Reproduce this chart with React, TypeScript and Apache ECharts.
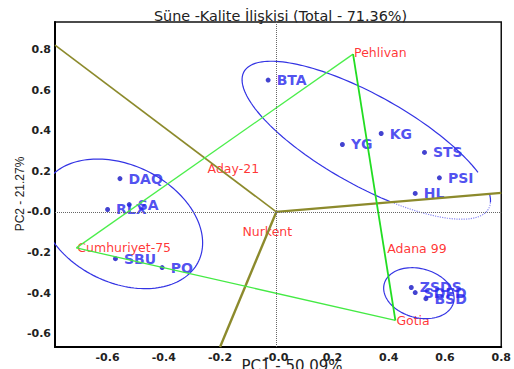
import React, { useEffect, useRef } from "react";
import * as echarts from "echarts";

// ---- data ----
const titleText = "Süne -Kalite İlişkisi (Total - 71.36%)";
const xName = "PC1 - 50.09%";
const yName = "PC2 - 21.27%";

const tickValues = [-0.6, -0.4, -0.2, 0, 0.2, 0.4, 0.6, 0.8];

// quality traits (blue)
const traitNames = ["BTA", "YG", "KG", "STS", "PSI", "HL", "DAQ", "SA", "RLX", "SBU", "PO", "ZSDS", "SDFD", "BSD"];
const traitPC1 = [-0.029, 0.235, 0.373, 0.527, 0.58, 0.494, -0.556, -0.523, -0.6, -0.572, -0.406, 0.48, 0.494, 0.532];
const traitPC2 = [0.649, 0.332, 0.386, 0.293, 0.168, 0.091, 0.164, 0.036, 0.012, -0.23, -0.274, -0.372, -0.397, -0.427];

// genotypes (red)
const genoNames = ["Pehlivan", "Aday-21", "Nurkent", "Adana 99", "Gotia", "Cumhuriyet-75"];
const genoPC1 = [0.273, -0.248, -0.124, 0.391, 0.4235, -0.711];
const genoPC2 = [0.777, 0.214, -0.095, -0.18, -0.534, -0.177];

// convex hull of genotypes (green)
const hullOrder = ["Pehlivan", "Gotia", "Cumhuriyet-75"];

// olive vectors from origin (end points)
const vectorEndsPC1 = [-0.787, 0.8, -0.2];
const vectorEndsPC2 = [0.821, 0.094, -0.665];

// ellipses: centre + two conjugate semi-diameters (data units)
const ellipseBig = { cx: 0.32, cy: 0.353, ux: 0.435, uy: -0.337, vx: -0.0769, vy: -0.194 };
const ellipseLeft = { cx: -0.551, cy: -0.0586, ux: 0.289, uy: -0.0937, vx: 0, vy: 0.305 };
const ellipseSmall = { cx: 0.507, cy: -0.4, ux: 0.1252, uy: -0.0246, vx: 0, vy: 0.123 };

type Ell = { cx: number; cy: number; ux: number; uy: number; vx: number; vy: number };
function ellipsePts(e: Ell, t0: number, t1: number, n: number) {
  const pts: number[][] = [];
  for (let i = 0; i <= n; i++) {
    const t = ((t0 + ((t1 - t0) * i) / n) * Math.PI) / 180;
    pts.push([e.cx + e.ux * Math.cos(t) + e.vx * Math.sin(t), e.cy + e.uy * Math.cos(t) + e.vy * Math.sin(t)]);
  }
  return pts;
}

const fmt = (v: number) => (Math.abs(v) < 1e-9 ? "-0.0" : v.toFixed(1));

export default function App() {
  const ref = useRef<HTMLDivElement>(null);
  useEffect(() => {
    if (!ref.current) return;
    const chart = echarts.init(ref.current, undefined, { renderer: "svg" });
    const genoIdx = (n: string) => genoNames.indexOf(n);
    const hullPts = hullOrder.map((n) => [genoPC1[genoIdx(n)], genoPC2[genoIdx(n)]]);
    const ellColor = "#3434e4";
    const olive = "#8c8a2c";
    const labelOffsets: Record<string, number[]> = { Pehlivan: [0, -2] };

    const axisLabel = {
      customValues: tickValues,
      formatter: fmt,
      color: "#222",
      fontSize: 11,
      fontWeight: "bold",
      fontFamily: "DejaVu Sans",
    };

    const option: any = {
      animation: false,
      backgroundColor: "#fff",
      textStyle: { fontFamily: "DejaVu Sans" },
      grid: { left: 55, right: 10, top: 22, bottom: 22, show: true, borderColor: "#111", borderWidth: 1.5 },
      xAxis: {
        type: "value",
        min: -0.787,
        max: 0.8,
        axisLine: { show: true, onZero: false, lineStyle: { color: "#000", width: 2 } },
        axisTick: { show: false },
        splitLine: { show: false },
        axisLabel: { ...axisLabel, margin: 5 },
      },
      yAxis: {
        type: "value",
        min: -0.665,
        max: 0.935,
        axisLine: { show: true, onZero: false, lineStyle: { color: "#000", width: 2 } },
        axisTick: { show: false },
        splitLine: { show: false },
        axisLabel: { ...axisLabel, margin: 4 },
      },
      graphic: [
        {
          type: "text",
          x: 280.5,
          y: 15.5,
          style: { text: titleText, fill: "#222", fontSize: 14.4, fontFamily: "DejaVu Sans", align: "center", verticalAlign: "middle" },
        },
        {
          type: "text",
          x: 292,
          y: 358,
          style: { text: xName, fill: "#222", fontSize: 15, fontFamily: "DejaVu Sans", align: "center", verticalAlign: "top" },
        },
        {
          type: "text",
          x: 20,
          y: 194,
          rotation: Math.PI / 2,
          style: { text: yName, fill: "#222", fontSize: 12, fontFamily: "Liberation Sans", align: "center", verticalAlign: "middle" },
        },
      ],
      series: [
        {
          type: "line",
          data: ellipsePts(ellipseBig, 69, 324, 120),
          showSymbol: false,
          silent: true,
          lineStyle: { color: ellColor, width: 1.2 },
          markLine: {
            silent: true,
            symbol: ["none", "none"],
            label: { show: false },
            lineStyle: { type: "dotted", color: "#666", width: 1 },
            data: [{ xAxis: 0 }, { yAxis: 0 }],
          },
        },
        {
          type: "line",
          data: ellipsePts(ellipseBig, 342, 352, 8),
          showSymbol: false,
          silent: true,
          lineStyle: { color: ellColor, width: 1.2 },
        },
        {
          type: "line",
          data: ellipsePts(ellipseBig, 352, 429, 60),
          showSymbol: false,
          silent: true,
          lineStyle: { color: "#8a8af4", width: 1.2, type: "dotted" },
        },
        {
          type: "line",
          data: ellipsePts(ellipseLeft, 0, 360, 160),
          showSymbol: false,
          silent: true,
          lineStyle: { color: ellColor, width: 1.2 },
        },
        {
          type: "line",
          data: ellipsePts(ellipseSmall, 0, 360, 100),
          showSymbol: false,
          silent: true,
          lineStyle: { color: ellColor, width: 1.2 },
        },
        ...vectorEndsPC1.map((vx, i) => ({
          type: "line",
          data: [
            [0, 0],
            [vx, vectorEndsPC2[i]],
          ],
          showSymbol: false,
          silent: true,
          lineStyle: { color: olive, width: i === 0 ? 1.6 : 2.4 },
        })),
        {
          type: "line",
          data: [hullPts[2], hullPts[0]],
          showSymbol: false,
          silent: true,
          lineStyle: { color: "#4cee4c", width: 1.3 },
        },
        {
          type: "line",
          data: [hullPts[1], hullPts[2]],
          showSymbol: false,
          silent: true,
          lineStyle: { color: "#44ea44", width: 1.3 },
        },
        {
          type: "line",
          data: [hullPts[0], hullPts[1]],
          showSymbol: false,
          silent: true,
          lineStyle: { color: "#22dd22", width: 1.8 },
        },
        {
          type: "scatter",
          symbolSize: 5,
          itemStyle: { color: "#1414c4" },
          silent: true,
          data: traitNames.map((n, i) => ({ name: n, value: [traitPC1[i], traitPC2[i]] })),
          label: {
            show: true,
            position: "right",
            distance: 6,
            formatter: "{b}",
            color: "#2424ec",
            fontSize: 14,
            fontWeight: "bold",
            fontFamily: "DejaVu Sans",
          },
        },
        {
          type: "scatter",
          symbolSize: 0,
          silent: true,
          data: genoNames.map((n, i) => ({
            name: n,
            value: [genoPC1[i], genoPC2[i]],
            label: labelOffsets[n] ? { offset: labelOffsets[n] } : undefined,
          })),
          label: {
            show: true,
            position: "right",
            distance: 1,
            formatter: "{b}",
            color: "#ff0000",
            fontSize: 12.5,
            fontFamily: "DejaVu Sans",
          },
        },
      ],
    };
    chart.setOption(option);
    return () => chart.dispose();
  }, []);
  return <div ref={ref} style={{ position: "absolute", left: 0, top: 0, width: 514, height: 369 }} />;
}
